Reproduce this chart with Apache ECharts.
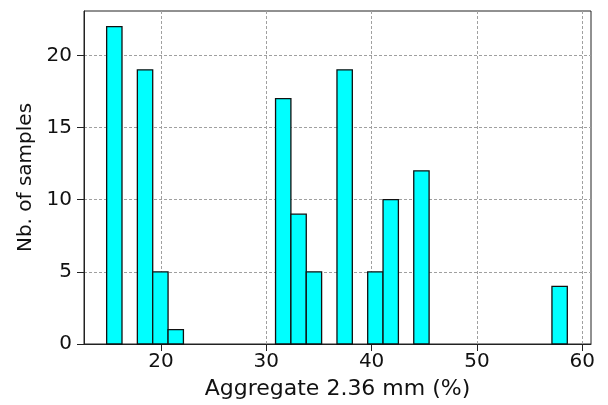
<!DOCTYPE html>
<html>
<head>
<meta charset="utf-8">
<script src="https://cdn.jsdelivr.net/npm/echarts@6/dist/echarts.min.js"></script>
<style>
  html, body { margin: 0; padding: 0; background: #fff; }
  #chart { width: 608px; height: 405px; }
</style>
</head>
<body>
<div id="chart"></div>
<script>
// histogram: 30 equal bins between the smallest and largest sample
const sampleMin = 14.84
const sampleMax = 58.58
const binCounts = [22, 0, 19, 5, 1, 0, 0, 0, 0, 0, 0, 17, 9, 5, 0, 19, 0, 5, 10, 0, 12, 0, 0, 0, 0, 0, 0, 0, 0, 4]
const xTicks = [20, 30, 40, 50, 60]
const yTicks = [0, 5, 10, 15, 20]

const binWidth = (sampleMax - sampleMin) / binCounts.length
const bars = []
binCounts.forEach((count, i) => {
  if (count > 0) {
    bars.push([sampleMin + i * binWidth, sampleMin + (i + 1) * binWidth, count])
  }
})

const font = 'DejaVu Sans'
const gridLine = { show: true, lineStyle: { color: '#a0a0a0', width: 1, type: [3, 2] } }

const chart = echarts.init(document.getElementById('chart'))
chart.setOption({
  backgroundColor: '#fff',
  animation: false,
  grid: {
    left: 84, right: 17, top: 11, bottom: 57,
    show: true, borderColor: '#222', borderWidth: 1
  },
  xAxis: {
    type: 'value',
    min: 12.69,
    max: 60.83,
    name: 'Aggregate 2.36 mm (%)',
    nameLocation: 'middle',
    nameGap: 34,
    nameTextStyle: { fontFamily: font, fontSize: 22, color: '#111' },
    axisLine: { lineStyle: { color: '#222', width: 1 } },
    axisTick: { show: true, length: 7, lineStyle: { color: '#222' }, customValues: xTicks },
    axisLabel: { fontFamily: font, fontSize: 20, color: '#111', margin: 8, customValues: xTicks },
    splitLine: gridLine
  },
  yAxis: {
    type: 'value',
    min: 0,
    max: 23.08,
    name: 'Nb. of samples',
    nameLocation: 'middle',
    nameGap: 47,
    nameRotate: 90,
    nameTextStyle: { fontFamily: font, fontSize: 20, color: '#111' },
    axisLine: { show: true, lineStyle: { color: '#222', width: 1 } },
    axisTick: { show: true, length: 7, lineStyle: { color: '#222' }, customValues: yTicks },
    axisLabel: { fontFamily: font, fontSize: 20, color: '#111', margin: 12, customValues: yTicks },
    splitLine: gridLine
  },
  series: [
    {
      type: 'custom',
      data: bars,
      encode: { x: [0, 1], y: 2 },
      renderItem: function (params, api) {
        const top = api.coord([api.value(0), api.value(2)])
        const bottom = api.coord([api.value(1), 0])
        return {
          type: 'rect',
          shape: { x: top[0], y: top[1], width: bottom[0] - top[0], height: bottom[1] - top[1] },
          style: { fill: '#00ffff', stroke: '#111', lineWidth: 1.3 }
        }
      }
    }
  ]
})
</script>
</body>
</html>
